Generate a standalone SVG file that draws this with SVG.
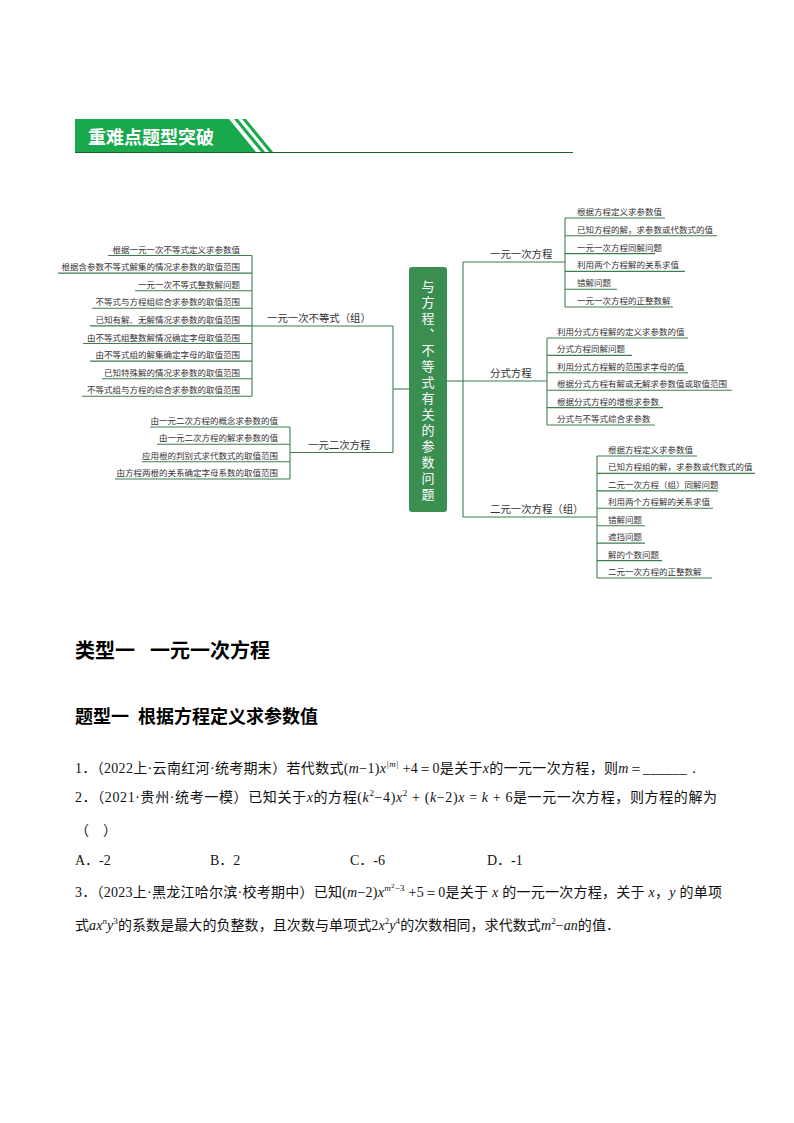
<svg xmlns="http://www.w3.org/2000/svg" width="794" height="1123" viewBox="0 0 794 1123">
<style>
.ln{stroke:#3f7d4e;stroke-width:1.1;fill:none}
.lf{font-family:"Noto Sans CJK SC","Liberation Sans",sans-serif;font-size:8.5px;fill:#333}
.lfe{font-family:"Noto Sans CJK SC","Liberation Sans",sans-serif;font-size:8.5px;fill:#333;text-anchor:end}
.br{font-family:"Noto Sans CJK SC","Liberation Sans",sans-serif;font-size:10.4px;fill:#333}
.ct{font-family:"Noto Sans CJK SC","Liberation Sans",sans-serif;font-size:13px;fill:#fff}
.bd{font-family:"Liberation Serif","Noto Sans CJK SC",serif;font-size:14px;fill:#111}
.m{font-family:"Liberation Serif",serif;font-style:italic}
.mu{font-family:"Liberation Serif",serif}
.h1{font-family:"Noto Sans CJK SC","Liberation Sans",sans-serif;font-size:20px;font-weight:bold;fill:#000}
.h2{font-family:"Noto Sans CJK SC","Liberation Sans",sans-serif;font-size:18px;font-weight:bold;fill:#000}
</style>
<rect width="794" height="1123" fill="#fff"/>
<g id="header">
<polygon points="75,119 229,119 256,152 75,152" fill="#1aa84c"/>
<polygon points="234,119 238,119 265,152 261,152" fill="#1aa84c"/>
<polygon points="242,119 246,119 273,152 269,152" fill="#1aa84c"/>
<line x1="75" y1="152.5" x2="573" y2="152.5" stroke="#1f5c33" stroke-width="1.2"/>
<text x="88" y="144" font-family="Noto Sans CJK SC,sans-serif" font-size="18" font-weight="bold" fill="#fff">重难点题型突破</text>
</g>
<g id="connectors">
<line class="ln" x1="393" y1="389" x2="409" y2="389"/>
<line class="ln" x1="393" y1="326" x2="393" y2="452.5"/>
<line class="ln" x1="252" y1="326" x2="393" y2="326"/>
<line class="ln" x1="290" y1="452.5" x2="393" y2="452.5"/>
<line class="ln" x1="252" y1="255.5" x2="252" y2="396.3"/>
<line class="ln" x1="290" y1="427" x2="290" y2="479"/>
<line class="ln" x1="447" y1="381" x2="463" y2="381"/>
<line class="ln" x1="463" y1="262" x2="463" y2="517"/>
<line class="ln" x1="463" y1="262" x2="565" y2="262"/>
<line class="ln" x1="463" y1="381" x2="547" y2="381"/>
<line class="ln" x1="463" y1="517" x2="597" y2="517"/>
<line class="ln" x1="565" y1="218" x2="565" y2="307"/>
<line class="ln" x1="547" y1="338" x2="547" y2="425"/>
<line class="ln" x1="597" y1="456" x2="597" y2="578"/>
</g>
<g id="center">
<rect x="409" y="267" width="38" height="245" rx="3" fill="#3a8e50"/>
<text class="ct" x="428" y="280" writing-mode="vertical-rl" letter-spacing="3">与方程、不等式有关的参数问题</text>
</g>
<g id="branch-ineq">
<text class="br" x="267" y="322">一元一次不等式（组）</text>
<line class="ln" x1="108" y1="255.5" x2="252" y2="255.5"/><text class="lfe" x="240" y="252.5">根据一元一次不等式定义求参数值</text>
<line class="ln" x1="58" y1="273.1" x2="252" y2="273.1"/><text class="lfe" x="240" y="270.1">根据含参数不等式解集的情况求参数的取值范围</text>
<line class="ln" x1="135" y1="290.7" x2="252" y2="290.7"/><text class="lfe" x="240" y="287.7">一元一次不等式整数解问题</text>
<line class="ln" x1="92" y1="308.3" x2="252" y2="308.3"/><text class="lfe" x="240" y="305.3">不等式与方程组综合求参数的取值范围</text>
<line class="ln" x1="90" y1="325.9" x2="252" y2="325.9"/><text class="lfe" x="240" y="322.9">已知有解、无解情况求参数的取值范围</text>
<line class="ln" x1="83" y1="343.5" x2="252" y2="343.5"/><text class="lfe" x="240" y="340.5">由不等式组整数解情况确定字母取值范围</text>
<line class="ln" x1="90" y1="361.1" x2="252" y2="361.1"/><text class="lfe" x="240" y="358.1">由不等式组的解集确定字母的取值范围</text>
<line class="ln" x1="102" y1="378.7" x2="252" y2="378.7"/><text class="lfe" x="240" y="375.7">已知特殊解的情况求参数的取值范围</text>
<line class="ln" x1="82" y1="396.3" x2="252" y2="396.3"/><text class="lfe" x="240" y="393.3">不等式组与方程的综合求参数的取值范围</text>
</g>
<g id="branch-quad">
<text class="br" x="308" y="448.5">一元二次方程</text>
<line class="ln" x1="150" y1="427" x2="290" y2="427"/><text class="lfe" x="278" y="424">由一元二次方程的概念求参数的值</text>
<line class="ln" x1="157" y1="444.3" x2="290" y2="444.3"/><text class="lfe" x="278" y="441.3">由一元二次方程的解求参数的值</text>
<line class="ln" x1="142" y1="461.7" x2="290" y2="461.7"/><text class="lfe" x="278" y="458.7">应用根的判别式求代数式的取值范围</text>
<line class="ln" x1="115" y1="479" x2="290" y2="479"/><text class="lfe" x="278" y="476">由方程两根的关系确定字母系数的取值范围</text>
</g>
<g id="branch-linear">
<text class="br" x="490" y="258">一元一次方程</text>
<line class="ln" x1="565" y1="218" x2="665" y2="218"/><text class="lf" x="577" y="215">根据方程定义求参数值</text>
<line class="ln" x1="565" y1="235.8" x2="717" y2="235.8"/><text class="lf" x="577" y="232.8">已知方程的解，求参数或代数式的值</text>
<line class="ln" x1="565" y1="253.6" x2="655" y2="253.6"/><text class="lf" x="577" y="250.6">一元一次方程同解问题</text>
<line class="ln" x1="565" y1="271.4" x2="685" y2="271.4"/><text class="lf" x="577" y="268.4">利用两个方程解的关系求值</text>
<line class="ln" x1="565" y1="289.2" x2="617" y2="289.2"/><text class="lf" x="577" y="286.2">错解问题</text>
<line class="ln" x1="565" y1="307" x2="673" y2="307"/><text class="lf" x="577" y="304">一元一次方程的正整数解</text>
</g>
<g id="branch-frac">
<text class="br" x="490" y="377">分式方程</text>
<line class="ln" x1="547" y1="338" x2="688" y2="338"/><text class="lf" x="557" y="335">利用分式方程解的定义求参数的值</text>
<line class="ln" x1="547" y1="355.4" x2="632" y2="355.4"/><text class="lf" x="557" y="352.4">分式方程同解问题</text>
<line class="ln" x1="547" y1="372.8" x2="688" y2="372.8"/><text class="lf" x="557" y="369.8">利用分式方程解的范围求字母的值</text>
<line class="ln" x1="547" y1="390.2" x2="732" y2="390.2"/><text class="lf" x="557" y="387.2">根据分式方程有解或无解求参数值或取值范围</text>
<line class="ln" x1="547" y1="407.6" x2="663" y2="407.6"/><text class="lf" x="557" y="404.6">根据分式方程的增根求参数</text>
<line class="ln" x1="547" y1="425" x2="655" y2="425"/><text class="lf" x="557" y="422">分式与不等式综合求参数</text>
</g>
<g id="branch-system">
<text class="br" x="490" y="513">二元一次方程（组）</text>
<line class="ln" x1="597" y1="456" x2="697" y2="456"/><text class="lf" x="608" y="453">根据方程定义求参数值</text>
<line class="ln" x1="597" y1="473.4" x2="755" y2="473.4"/><text class="lf" x="608" y="470.4">已知方程组的解，求参数或代数式的值</text>
<line class="ln" x1="597" y1="490.9" x2="718" y2="490.9"/><text class="lf" x="608" y="487.9">二元一次方程（组）同解问题</text>
<line class="ln" x1="597" y1="508.3" x2="713" y2="508.3"/><text class="lf" x="608" y="505.3">利用两个方程解的关系求值</text>
<line class="ln" x1="597" y1="525.7" x2="645" y2="525.7"/><text class="lf" x="608" y="522.7">错解问题</text>
<line class="ln" x1="597" y1="543.1" x2="645" y2="543.1"/><text class="lf" x="608" y="540.1">遮挡问题</text>
<line class="ln" x1="597" y1="560.6" x2="662" y2="560.6"/><text class="lf" x="608" y="557.6">解的个数问题</text>
<line class="ln" x1="597" y1="578" x2="712" y2="578"/><text class="lf" x="608" y="575">二元一次方程的正整数解</text>
</g>
<g id="body">
<text class="h1" x="75" y="658">类型一</text>
<text class="h1" x="150" y="658">一元一次方程</text>
<text class="h2" x="75" y="723">题型一</text>
<text class="h2" x="138" y="723">根据方程定义求参数值</text>
<text class="bd" x="75" y="773" textLength="626" lengthAdjust="spacing">1．（2022上·云南红河·统考期末）若代数式<tspan class="mu">(</tspan><tspan class="m">m</tspan><tspan class="mu">−1)</tspan><tspan class="m">x</tspan><tspan class="m" font-size="9" dy="-6">|m|</tspan><tspan class="mu" dy="6"> +4＝0</tspan>是关于<tspan class="m">x</tspan>的一元一次方程，则<tspan class="m">m</tspan><tspan class="mu">＝______．</tspan></text>
<text class="bd" x="75" y="802" textLength="642" lengthAdjust="spacing">2．（2021·贵州·统考一模）已知关于<tspan class="m">x</tspan>的方程<tspan class="mu">(</tspan><tspan class="m">k</tspan><tspan class="mu" font-size="9" dy="-6">2</tspan><tspan class="mu" dy="6">−4)</tspan><tspan class="m">x</tspan><tspan class="mu" font-size="9" dy="-6">2</tspan><tspan class="mu" dy="6"> + (</tspan><tspan class="m">k</tspan><tspan class="mu">−2)</tspan><tspan class="m">x</tspan><tspan class="mu"> = </tspan><tspan class="m">k</tspan><tspan class="mu"> + 6</tspan>是一元一次方程，则方程的解为</text>
<text class="bd" x="75" y="835">（　）</text>
<text class="bd" x="75" y="865">A．-2</text>
<text class="bd" x="210" y="865">B．2</text>
<text class="bd" x="350" y="865">C．-6</text>
<text class="bd" x="487" y="865">D．-1</text>
<text class="bd" x="75" y="897" textLength="647" lengthAdjust="spacing">3．（2023上·黑龙江哈尔滨·校考期中）已知<tspan class="mu">(</tspan><tspan class="m">m</tspan><tspan class="mu">−2)</tspan><tspan class="m">x</tspan><tspan class="m" font-size="9" dy="-6">m</tspan><tspan class="mu" font-size="7" dy="-3">2</tspan><tspan class="mu" font-size="9" dy="3">−3</tspan><tspan class="mu" dy="6"> +5＝0</tspan>是关于 <tspan class="m">x</tspan> 的一元一次方程，关于 <tspan class="m">x</tspan>，<tspan class="m">y</tspan> 的单项</text>
<text class="bd" x="75" y="930" textLength="545" lengthAdjust="spacing">式<tspan class="m">ax</tspan><tspan class="m" font-size="9" dy="-6">n</tspan><tspan class="m" dy="6">y</tspan><tspan class="mu" font-size="9" dy="-6">3</tspan><tspan dy="6">的系数是最大的负整数，且次数与单项式</tspan><tspan class="mu">2</tspan><tspan class="m">x</tspan><tspan class="mu" font-size="9" dy="-6">2</tspan><tspan class="m" dy="6">y</tspan><tspan class="mu" font-size="9" dy="-6">4</tspan><tspan dy="6">的次数相同，求代数式</tspan><tspan class="m">m</tspan><tspan class="mu" font-size="9" dy="-6">2</tspan><tspan class="mu" dy="6">−</tspan><tspan class="m">an</tspan>的值．</text>
</g>
</svg>
